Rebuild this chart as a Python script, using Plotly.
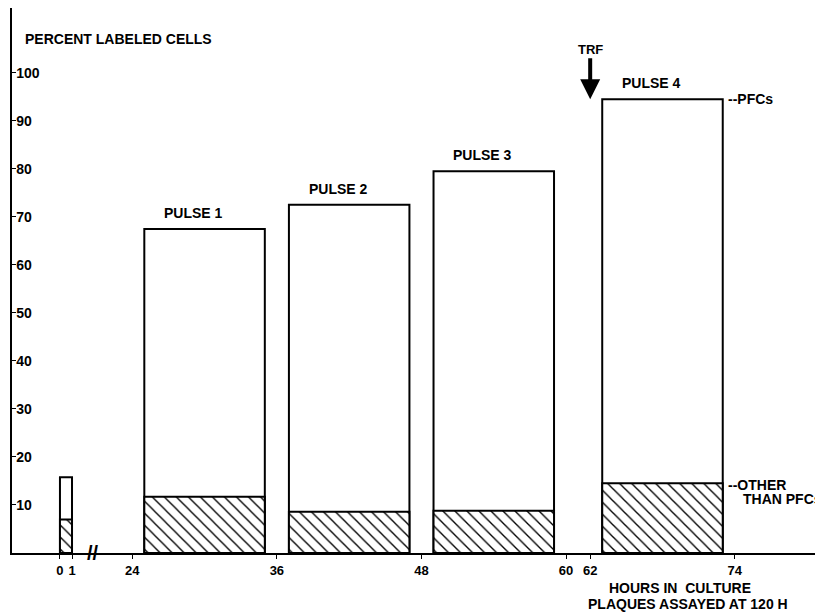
import plotly.graph_objects as go

# ---- data ----
pulse_labels = ["", "PULSE 1", "PULSE 2", "PULSE 3", "PULSE 4"]
bar_start_h = [0, 25, 37, 49, 63]
bar_end_h = [1, 35, 47, 59, 73]
total_pct = [15.8, 67.5, 72.5, 79.5, 94.5]
other_pct = [7.0, 11.7, 8.6, 8.8, 14.5]
tick_hours = [0, 1, 24, 36, 48, 60, 62, 74]
y_ticks = [10, 20, 30, 40, 50, 60, 70, 80, 90, 100]
trf_hour = 62

# broken axis: hours 2..23 are cut out
BREAK_GAP = 18


def pos(h):
    return h if h <= 12 else h - BREAK_GAP


centers = [(pos(a) + pos(b)) / 2 for a, b in zip(bar_start_h, bar_end_h)]
widths = [pos(b) - pos(a) for a, b in zip(bar_start_h, bar_end_h)]

FONT = "Liberation Sans, Arial, sans-serif"


def f(size):
    return dict(size=size, color="black", family=FONT, weight="bold")


fig = go.Figure()
fig.add_trace(go.Bar(
    x=centers, y=total_pct, width=widths,
    marker=dict(color="white", line=dict(color="black", width=2)),
    hoverinfo="skip", showlegend=False,
))
fig.add_trace(go.Bar(
    x=centers, y=other_pct, width=widths,
    marker=dict(color="white", line=dict(color="black", width=2),
                pattern=dict(shape="\\", fgcolor="black", bgcolor="white",
                             size=8.5, solidity=0.16, fillmode="replace")),
    hoverinfo="skip", showlegend=False,
))

annotations = []
for c, t, lab in zip(centers, total_pct, pulse_labels):
    if lab:
        annotations.append(dict(x=c, y=t, text=lab, showarrow=False,
                                yanchor="bottom", yshift=6, xshift=-11,
                                font=f(14)))

# right-side labels
annotations.append(dict(x=pos(bar_end_h[-1]), y=total_pct[-1], text="--PFCs",
                        showarrow=False, xanchor="left", xshift=3,
                        font=f(14)))
annotations.append(dict(x=pos(bar_end_h[-1]), y=other_pct[-1], text="--OTHER",
                        showarrow=False, xanchor="left", xshift=3, yshift=-2,
                        font=f(14)))
annotations.append(dict(x=pos(bar_end_h[-1]), y=other_pct[-1], text="THAN PFCs",
                        showarrow=False, xanchor="left", xshift=18, yshift=-16,
                        font=f(14)))

# TRF arrow
annotations.append(dict(x=pos(trf_hour), y=total_pct[-1], text="TRF",
                        showarrow=True, ax=0, ay=-50, arrowhead=2,
                        arrowsize=1, arrowwidth=4, arrowcolor="black",
                        font=f(13)))

# axis break mark
annotations.append(dict(x=(pos(1) + pos(24)) / 2 - 0.8, y=0, text="//",
                        showarrow=False, font=f(20)))

# axis titles
annotations.append(dict(xref="paper", yref="paper", x=0.0136, y=0.943,
                        xanchor="left", yanchor="middle",
                        text="PERCENT LABELED CELLS", showarrow=False,
                        font=f(14)))
annotations.append(dict(xref="paper", yref="paper", x=0.8237, y=-0.0642,
                        xanchor="center", yanchor="middle",
                        text="HOURS IN  CULTURE", showarrow=False,
                        font=f(14)))
annotations.append(dict(xref="paper", yref="paper", x=0.8335, y=-0.0936,
                        xanchor="center", yanchor="middle",
                        text="PLAQUES ASSAYED AT 120 H", showarrow=False,
                        font=f(14)))

# the page body adds an 8px margin, so the figure is sized to fit the window
fig.update_layout(
    width=815, height=604,
    margin=dict(l=4, r=0, t=0, b=59),
    paper_bgcolor="white", plot_bgcolor="white",
    template="none",
    barmode="overlay",
    annotations=annotations,
    font=dict(family=FONT, color="black"),
    xaxis=dict(range=[-3.98, 63.32], showgrid=False, zeroline=False,
               showline=True, linecolor="black", linewidth=2,
               ticks="outside", ticklen=4, tickcolor="black", tickwidth=1,
               tickvals=[pos(h) for h in tick_hours],
               ticktext=[str(h) for h in tick_hours],
               tickfont=f(13),
               automargin=False, fixedrange=True),
    yaxis=dict(range=[0, 113.5], showgrid=False, zeroline=False,
               showline=True, linecolor="black", linewidth=2,
               ticks="inside", ticklen=4, tickcolor="black", tickwidth=1,
               ticklabelposition="inside",
               tickvals=y_ticks, ticktext=[str(v) for v in y_ticks],
               tickfont=f(14),
               automargin=False, fixedrange=True),
)

fig.write_html("out.html")
